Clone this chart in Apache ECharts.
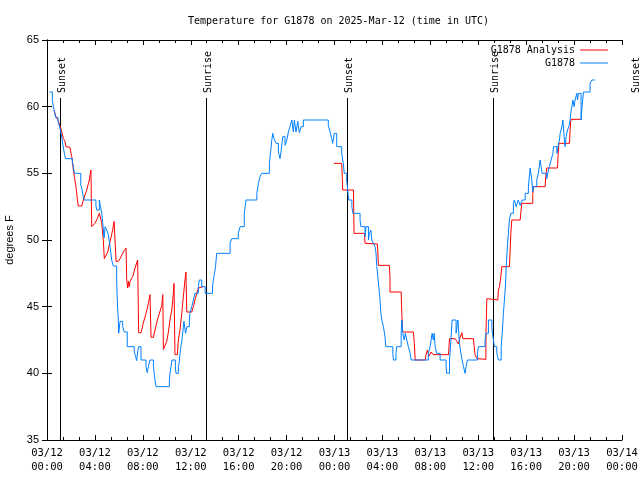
<!DOCTYPE html>
<html><head><meta charset="utf-8">
<script src="https://cdn.jsdelivr.net/npm/echarts@6/dist/echarts.min.js"></script>
<style>html,body{margin:0;padding:0;background:#fff}#c{width:640px;height:480px}</style>
</head><body><div id="c"></div>
<script>
const titleText = 'Temperature for G1878 on 2025-Mar-12 (time in UTC)';
const yName = 'degrees F';
// x axis in minutes from 03/12 00:00 UTC
const xMin = 0, xMax = 2880, xStep = 240;
const yMin = 35, yMax = 65, yStep = 5;

const blueName = 'G1878';
const blueT = [12,27,35,43,55,65,73,80,88,93,127,132,137,169,174,177,182,187,245,249,262,268,274,279,286,291,299,307,312,316,324,332,349,352,357,359,366,379,387,402,437,444,449,454,459,471,496,502,508,516,533,538,541,546,613,616,621,626,643,646,658,663,666,671,676,683,686,694,701,713,716,725,733,741,758,763,775,792,829,833,839,844,850,917,925,958,967,988,997,1051,1059,1067,1076,1114,1121,1126,1131,1137,1147,1159,1167,1172,1181,1192,1201,1209,1217,1226,1234,1239,1247,1256,1264,1273,1284,1409,1418,1426,1431,1439,1451,1476,1484,1489,1501,1506,1511,1527,1532,1568,1572,1593,1598,1610,1615,1622,1627,1635,1643,1648,1652,1657,1662,1665,1668,1672,1677,1685,1693,1697,1732,1735,1748,1752,1774,1777,1782,1789,1795,1802,1810,1819,1824,1910,1919,1924,1929,1935,1939,1944,1952,1969,1999,2002,2016,2023,2029,2049,2058,2066,2073,2079,2086,2094,2099,2106,2156,2161,2194,2199,2211,2228,2231,2236,2241,2253,2261,2275,2280,2286,2291,2296,2300,2306,2311,2316,2323,2336,2341,2350,2360,2370,2380,2395,2411,2420,2428,2433,2436,2453,2461,2470,2475,2480,2503,2508,2516,2525,2534,2537,2554,2562,2567,2570,2579,2584,2590,2595,2600,2607,2614,2620,2624,2629,2634,2640,2645,2654,2657,2662,2675,2680,2687,2720,2729,2745];
const blueV = [61.1,60.4,59.8,59.2,58.9,58.4,57.8,57.1,56.4,56.1,55.75,55.5,55.0,54.1,53.9,53.6,53.25,53.0,52.6,52.25,53.0,52.5,52.0,51.3,50.15,51.0,50.75,50.4,49.9,49.5,48.5,48.05,47.0,45.5,44.0,43.0,43.9,43.5,43.1,42.0,41.6,41.25,40.95,41.6,42.0,41.0,40.5,40.05,40.5,41.0,40.5,39.9,39.5,39.0,39.5,40.0,40.5,41.0,40.5,40.0,40.5,40.9,41.5,42.0,42.5,43.5,43.9,43.0,43.5,44.0,44.5,45.0,45.5,46.0,46.5,47.0,46.5,46.0,46.5,47.0,47.5,48.0,49.0,49.75,50.1,50.5,51.0,52.0,53.0,53.5,54.25,54.75,55.0,55.75,56.75,57.5,58.0,57.6,57.25,56.6,56.1,56.6,57.75,57.1,57.5,58.1,58.5,59.0,58.1,59.0,58.1,58.9,58.05,58.5,59.0,58.6,58.1,57.6,57.25,58.0,57.0,56.5,55.75,55.0,54.5,53.75,53.0,52.5,52.0,51.5,51.0,50.25,51.0,50.0,50.5,50.75,50.0,49.75,49.5,49.0,48.0,47.25,46.5,46.0,45.5,44.6,44.0,43.5,42.75,42.0,41.5,41.0,41.5,42.0,43.0,44.0,43.0,42.5,43.0,42.5,42.0,41.5,41.0,41.5,42.0,42.5,43.0,42.5,43.0,42.0,41.5,41.0,40.5,40.0,41.0,42.5,44.0,43.0,44.0,42.25,41.5,41.0,40.5,40.0,40.5,41.0,41.5,42.0,42.5,43.0,44.0,43.5,43.0,42.5,42.0,41.5,41.0,42.0,43.0,44.5,45.5,46.5,48.0,49.5,50.5,51.5,52.0,52.75,53.0,52.5,53.0,52.6,53.0,53.5,54.0,55.4,54.5,53.6,54.0,54.5,55.0,56.0,55.5,55.0,54.6,55.0,55.5,56.0,56.5,57.0,56.5,57.25,57.5,58.0,58.5,59.0,57.75,57.0,57.75,58.25,58.5,59.0,59.6,60.0,60.5,60.0,60.5,61.0,60.5,61.0,59.0,60.0,61.1,61.75,62.0,62.0];

const redName = 'G1878 Analysis';
const redT = [35,40,45,57,69,74,82,90,95,115,119,124,129,132,137,144,149,152,157,174,182,199,212,220,224,224,232,240,252,262,271,274,282,287,296,304,316,329,336,341,346,346,357,366,382,396,399,399,404,408,412,416,429,441,454,459,459,471,482,496,508,516,521,521,533,541,553,563,575,580,583,583,593,600,608,616,625,633,636,641,641,653,658,666,675,683,691,696,700,700,725,733,741,750,758,763,783,1100,1438,1476,1479,1481,1535,1538,1590,1593,1655,1660,1715,1718,1718,1774,1777,1780,1782,1835,1840,1844,1894,1899,1905,1914,1924,1934,2011,2016,2044,2053,2061,2069,2078,2083,2136,2139,2144,2153,2154,2198,2199,2203,2258,2261,2266,2270,2273,2278,2316,2320,2323,2328,2370,2373,2378,2433,2433,2436,2495,2498,2503,2557,2559,2564,2617,2620,2624,2675];
const redV = [59.75,59.6,59.25,58.9,58.4,58.1,57.6,57.4,57.0,56.95,56.6,56.25,55.75,55.25,54.75,54.1,53.5,53.0,52.55,52.55,53.0,53.75,54.5,55.25,55.25,51.0,51.0,51.25,51.6,52.0,52.1,51.3,50.0,48.6,48.5,49.1,49.9,50.75,51.4,51.5,51.5,48.4,48.4,48.6,49.1,49.4,49.4,47.1,46.4,46.9,46.5,46.9,47.25,47.9,48.5,48.5,43.05,43.05,43.75,44.5,45.25,45.9,45.9,42.7,42.7,43.25,44.0,44.5,45.1,45.9,45.9,41.8,41.8,42.4,43.1,44.0,44.75,46.0,46.75,46.75,41.4,41.4,42.5,43.25,44.5,45.75,47.0,47.6,47.6,44.6,44.6,45.0,45.5,46.0,46.4,46.5,46.5,null,55.75,55.75,54.75,53.75,53.75,50.5,50.5,49.75,49.7,48.1,48.1,47.1,46.1,46.1,44.5,43.5,43.1,43.1,42.25,41.0,41.0,41.4,41.75,41.3,41.6,41.4,41.4,42.6,42.6,42.4,42.2,42.7,43.05,42.6,42.6,42.1,41.4,41.1,41.05,41.05,43.25,45.6,45.5,46.25,46.5,46.4,47.25,48.0,48.0,49.25,50.4,51.5,51.5,52.0,52.75,52.75,53.4,54.0,54.0,54.75,55.4,55.4,56.1,57.25,57.25,58.25,59.05,59.05];

const eventT = [63, 798, 1501, 2236, 2939];
const eventLabel = ['Sunset','Sunrise','Sunset','Sunrise','Sunset'];

const MONO = '"DejaVu Sans Mono", "Liberation Mono", monospace';
const SANS = '"Liberation Sans", "DejaVu Sans", sans-serif';

function fmtX(m) {
  const day = 12 + Math.floor(m / 1440);
  const hh = Math.round((m % 1440) / 60);
  return '03/' + String(day).padStart(2, '0') + '\n' + String(hh).padStart(2, '0') + ':00';
}

const chart = echarts.init(document.getElementById('c'), null, {renderer: 'canvas'});
const axisLineStyle = {show: true, lineStyle: {color: '#000', width: 1}};
const tickStyle = {show: true, inside: true, length: 5, lineStyle: {color: '#000'}};
const minorStyle = {show: true, splitNumber: 3, length: 3, lineStyle: {color: '#000'}};

chart.setOption({
  animation: false,
  backgroundColor: '#fff',
  title: {
    text: titleText, left: 183, top: 11,
    textStyle: {fontFamily: MONO, fontSize: 10, fontWeight: 'normal', color: '#000'}
  },
  legend: {
    data: [{name: redName, icon: 'rect'}, {name: blueName, icon: 'rect'}],
    orient: 'vertical', right: 27, top: 39,
    align: 'right', itemWidth: 28, itemHeight: 1, itemGap: 1,
    textStyle: {fontFamily: MONO, fontSize: 10, color: '#000', lineHeight: 12}
  },
  grid: {left: 47, right: 18, top: 40, bottom: 40, containLabel: false, outerBoundsMode: 'none'},
  xAxis: [
    {type: 'value', min: xMin, max: xMax, interval: xStep, position: 'bottom',
     axisLine: axisLineStyle, axisTick: tickStyle, minorTick: minorStyle,
     splitLine: {show: false},
     axisLabel: {formatter: fmtX, color: '#000', fontFamily: MONO, fontSize: 10.5, lineHeight: 14, margin: 6}},
    {type: 'value', min: xMin, max: xMax, interval: xStep, position: 'top',
     axisLine: axisLineStyle, axisTick: tickStyle, minorTick: minorStyle,
     splitLine: {show: false}, axisLabel: {show: false}}
  ],
  yAxis: [
    {type: 'value', min: yMin, max: yMax, interval: yStep, position: 'left',
     name: yName, nameLocation: 'middle', nameGap: 32,
     nameTextStyle: {fontFamily: SANS, fontSize: 11, color: '#000'},
     axisLine: axisLineStyle, axisTick: tickStyle, splitLine: {show: false},
     axisLabel: {color: '#000', fontFamily: SANS, fontSize: 11, margin: 8}},
    {type: 'value', min: yMin, max: yMax, interval: yStep, position: 'right',
     axisLine: axisLineStyle, axisTick: tickStyle, splitLine: {show: false},
     axisLabel: {show: false}}
  ],
  series: [
    {
      name: redName, type: 'line', xAxisIndex: 0, yAxisIndex: 0,
      symbol: 'none', showSymbol: false, connectNulls: false,
      lineStyle: {color: '#ff0000', width: 1}, itemStyle: {color: '#ff0000'},
      data: redT.map((t, i) => [t, redV[i] === null ? '-' : redV[i]]),
      z: 3
    },
    {
      name: blueName, type: 'line', xAxisIndex: 0, yAxisIndex: 0,
      symbol: 'none', showSymbol: false, step: 'end',
      lineStyle: {color: '#0080ff', width: 1}, itemStyle: {color: '#0080ff'},
      data: blueT.map((t, i) => [t, blueV[i]]),
      z: 4
    },
    {
      name: 'events', type: 'custom', xAxisIndex: 0, yAxisIndex: 0,
      clip: false, silent: true, z: 2,
      data: eventT.map(t => [t, yMin]),
      encode: {x: 0, y: 1},
      renderItem: function (params, api) {
        const t = api.value(0);
        const base = api.coord([t, yMin]);
        const top = api.coord([t, 60.65]);
        const px = Math.round(base[0]) + 0.5;
        const children = [];
        if (t <= xMax) {
          children.push({type: 'line', shape: {x1: px, y1: top[1], x2: px, y2: base[1]},
            style: {stroke: '#000', lineWidth: 1}});
        }
        children.push({type: 'text', x: px + 1.5, y: top[1] - 5, rotation: Math.PI / 2,
          style: {text: eventLabel[params.dataIndex], fill: '#000', font: '10px ' + MONO,
            align: 'left', verticalAlign: 'middle'}});
        return {type: 'group', children: children};
      }
    }
  ]
});
</script>
</body></html>
